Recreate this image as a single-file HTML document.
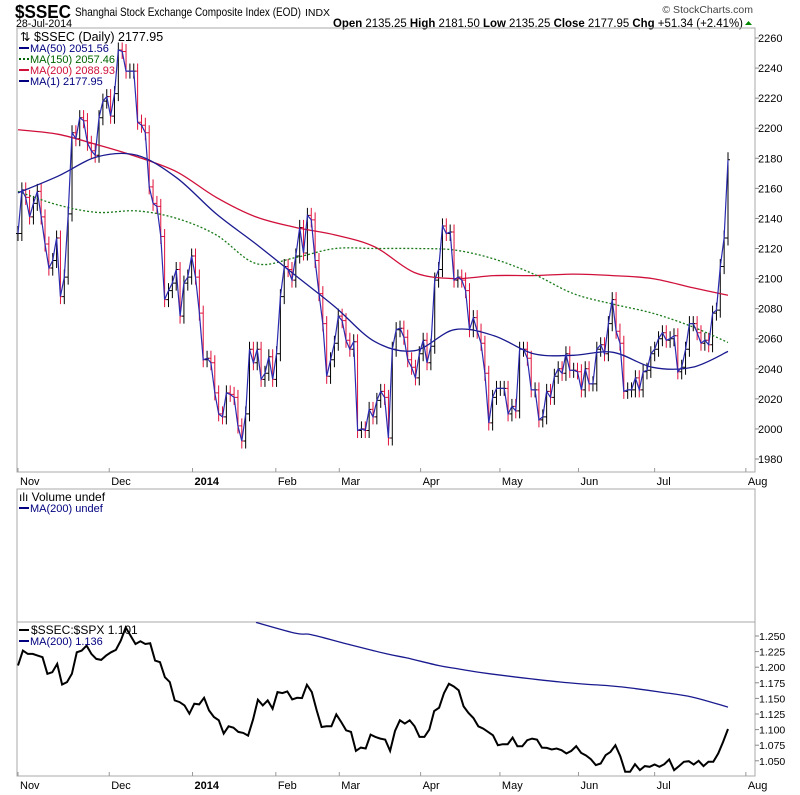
<!DOCTYPE html>
<html><head><meta charset="utf-8"><style>
body{margin:0;background:#fff;font-family:"Liberation Sans",sans-serif}
svg{display:block}
</style></head><body>
<svg id="c" width="800" height="795" xmlns="http://www.w3.org/2000/svg">
<text x="15" y="18" font-size="18" font-weight="bold" fill="#000" textLength="56" lengthAdjust="spacingAndGlyphs">$SSEC</text>
<text x="75" y="16" font-size="12" fill="#000" textLength="226" lengthAdjust="spacingAndGlyphs">Shanghai Stock Exchange Composite Index (EOD)</text>
<text x="305" y="16" font-size="10.5" fill="#000" textLength="25" lengthAdjust="spacingAndGlyphs">INDX</text>
<text x="16" y="27" font-size="11" fill="#000" textLength="56" lengthAdjust="spacingAndGlyphs">28-Jul-2014</text>
<text x="753" y="13" font-size="10.5" fill="#444" text-anchor="end">© StockCharts.com</text>
<text x="743" y="27" font-size="11.5" fill="#000" text-anchor="end" textLength="410" lengthAdjust="spacingAndGlyphs"><tspan font-weight="bold">Open</tspan> 2135.25 <tspan font-weight="bold">High</tspan> 2181.50 <tspan font-weight="bold">Low</tspan> 2135.25 <tspan font-weight="bold">Close</tspan> 2177.95 <tspan font-weight="bold">Chg</tspan> +51.34 (+2.41%)</text>
<polygon points="745,25 752,25 748.5,21" fill="#080"/>
<rect x="17" y="28" width="738" height="444" fill="none" stroke="#aaa"/>
<rect x="17" y="489" width="738" height="133" fill="none" stroke="#aaa"/>
<rect x="17" y="622" width="738" height="154" fill="none" stroke="#aaa"/>
<g id="g"></g>
<g font-size="11">
<text x="20" y="41" font-size="12.5" fill="#000">⇅ $SSEC (Daily) 2177.95</text>
<line x1="19" y1="48" x2="29" y2="48" stroke="#000080" stroke-width="2"/><text x="30" y="52" fill="#000080">MA(50) 2051.56</text>
<line x1="19" y1="59" x2="29" y2="59" stroke="#006400" stroke-width="2" stroke-dasharray="2,2"/><text x="30" y="63" fill="#006400">MA(150) 2057.46</text>
<line x1="19" y1="70" x2="29" y2="70" stroke="#d0103a" stroke-width="2"/><text x="30" y="74" fill="#d0103a">MA(200) 2088.93</text>
<line x1="19" y1="81" x2="29" y2="81" stroke="#000080" stroke-width="2"/><text x="30" y="85" fill="#000080">MA(1) 2177.95</text>
</g>
<g font-size="11">
<text x="19" y="501" font-size="12" fill="#000">ılı Volume undef</text>
<line x1="19" y1="508" x2="29" y2="508" stroke="#000080" stroke-width="2"/><text x="30" y="512" fill="#000080">MA(200) undef</text>
</g>
<g font-size="11">
<line x1="19" y1="630" x2="29" y2="630" stroke="#000" stroke-width="2"/><text x="31" y="634" font-size="12" fill="#000">$SSEC:$SPX 1.101</text>
<line x1="19" y1="641" x2="29" y2="641" stroke="#000080" stroke-width="2"/><text x="30" y="645" fill="#000080">MA(200) 1.136</text>
</g>
</svg>
<script>
const closes=[2130,2159,2154,2141,2150,2158,2141,2123,2107,2112,2127,2088,2101,2143,2197,2193,2207,2205,2190,2185,2182,2207,2218,2221,2208,2223,2252,2251,2238,2238,2238,2204,2202,2197,2161,2150,2148,2128,2086,2092,2097,2106,2075,2097,2101,2115,2101,2077,2046,2047,2044,2024,2010,2008,2024,2023,2021,2002,1992,2010,2053,2044,2053,2033,2037,2048,2033,2050,2088,2108,2106,2099,2115,2134,2117,2142,2139,2112,2090,2070,2035,2046,2057,2075,2072,2059,2053,2058,1999,2000,1999,2013,2008,2019,2025,2021,1994,
2053,2066,2067,2061,2046,2041,2034,2050,2059,2044,2055,2099,2106,2135,2130,2131,2099,2101,2099,2092,2066,2074,2065,2057,2037,2004,2021,2027,2027,2027,2010,2015,2012,2053,2053,2047,2026,2026,2006,2008,2025,2021,2035,2040,2037,2050,2039,2039,2038,2026,2040,2030,2030,2053,2056,2050,2070,2086,2065,2057,2025,2026,2026,2034,2026,2038,2039,2050,2053,2060,2064,2059,2060,2062,2038,2041,2053,2070,2070,2064,2057,2059,2056,2077,2079,2108,2127,2179];
const maDays=[0,10,20,30,40,50,60,70,80,90,100,110,120,130,140,150,160,170,179];
const ma50=[2157,2168,2181,2182,2167,2143,2123,2102,2081,2058,2052,2066,2062,2050,2049,2051,2041,2041,2051.56];
const ma150=[2158,2149,2144,2145,2140,2129,2110,2114,2120,2120,2120,2119,2113,2103,2090,2083,2077,2068,2057.46];
const ma200=[2199,2196,2189,2181,2171,2154,2141,2134,2129,2121,2104,2100,2102,2102,2103,2102,2100,2094,2088.93];
const ratio=[1.2027,1.2266,1.2213,1.2213,1.2186,1.2160,1.1894,1.1920,1.2053,1.1723,1.1761,1.1894,1.2239,1.2266,1.2346,1.2213,1.2133,1.2117,1.2186,1.2239,1.2277,1.2426,1.2638,1.2505,1.2372,1.2415,1.2372,1.2383,1.2106,1.2080,1.1840,1.1761,1.1468,1.1441,1.1388,1.1255,1.1415,1.1404,1.1510,1.1308,1.1202,1.1149,1.0936,1.1053,1.1032,1.0963,1.0947,1.0904,1.1159,1.1479,1.1388,1.1468,1.1335,1.1601,1.1585,1.1612,1.1484,1.1510,1.1505,1.1718,1.1601,1.1308,1.1042,1.1053,1.1053,1.1244,1.1122,1.0989,1.0963,1.0659,1.0712,1.0697,1.0920,1.0883,1.0856,1.0840,1.0659,1.0978,1.1149,1.1096,1.1149,1.1053,1.0883,1.0883,1.1000,1.1298,1.1351,1.1585,1.1734,1.1691,1.1628,1.1372,1.1266,1.1186,1.1053,1.1016,1.0963,1.0909,1.0750,1.0766,1.0766,1.0872,1.0734,1.0734,1.0830,1.0856,1.0840,1.0712,1.0707,1.0681,1.0697,1.0670,1.0617,1.0659,1.0734,1.0627,1.0585,1.0526,1.0431,1.0457,1.0590,1.0643,1.0750,1.0574,1.0324,1.0324,1.0446,1.0351,1.0415,1.0404,1.0441,1.0404,1.0446,1.0521,1.0351,1.0415,1.0484,1.0494,1.0441,1.0500,1.0415,1.0484,1.0484,1.0617,1.0803,1.101];
const ratioMaDays=[60,70,74,83,93,98,106,111,119,137,150,156,162,170,179];
const ratioMa=[1.2718,1.2543,1.2521,1.2372,1.2213,1.2149,1.2027,1.1973,1.1894,1.1761,1.1697,1.1654,1.1601,1.1521,1.136];
const priceTicks=[1980,2000,2020,2040,2060,2080,2100,2120,2140,2160,2180,2200,2220,2240,2260];
const ratioTicks=[1.050,1.075,1.100,1.125,1.150,1.175,1.200,1.225,1.250];
const monthLabels=["Nov","Dec","2014","Feb","Mar","Apr","May","Jun","Jul","Aug"];
const monthDays=[0,23,44,65,81,101.5,121.5,141.3,160.5,183.5];

const NS="http://www.w3.org/2000/svg", g=document.getElementById('g');
const nDays=180;
const xDay=d=>18+d*(728-18)/(nDays-1);
const yP=p=>38+(2260-p)*1.5036;
const yR=v=>636+(1.25-v)/0.025*15.6;
function mk(t,a){const e=document.createElementNS(NS,t);for(const k in a)e.setAttribute(k,a[k]);g.appendChild(e);return e;}
const cp=mk('clipPath',{id:'rc'});const cr=document.createElementNS(NS,'rect');cr.setAttribute('x',17);cr.setAttribute('y',622);cr.setAttribute('width',738);cr.setAttribute('height',154);cp.appendChild(cr);
priceTicks.forEach(p=>{const y=yP(p);
 let l=mk('line',{x1:755,y1:y,x2:759,y2:y,stroke:'#888'});
 
 let t=mk('text',{x:758,y:y+4,'font-size':11,fill:'#000'});t.textContent=p;
 });
ratioTicks.forEach(v=>{const y=yR(v);
 let l=mk('line',{x1:755,y1:y,x2:759,y2:y,stroke:'#888'});
 
 let t=mk('text',{x:759,y:y+4,'font-size':10.5,fill:'#000'});t.textContent=v.toFixed(3);
 });
monthLabels.forEach((m,i)=>{const x=xDay(monthDays[i]);
 [485,789].forEach(yy=>{let t=mk('text',{x:x+2,y:yy,'font-size':11,fill:'#000','font-weight':m==='2014'?'bold':'normal'});t.textContent=m;
 });
 [472,776].forEach(yy=>{let l=mk('line',{x1:x,y1:yy,x2:x,y2:yy-4,stroke:'#999'});
 });
});
const step=(nDays-1)/(closes.length-1);
closes.forEach((c,i)=>{const pc=i?closes[i-1]:c;const x=xDay(i*step);
 const hi=Math.max(c,pc)+5,lo=Math.min(c,pc)-5;const col=c>=pc?'#000':'#e0103a';
 let b=mk('path',{d:`M${x},${yP(hi)}V${yP(lo)}M${x-2},${yP(pc)}H${x}M${x},${yP(c)}H${x+2}`,stroke:col,'stroke-width':1,fill:'none'});
 });
function line(xs,ys,attrs,name,clip,smooth){let d;
 if(smooth){d='M'+xs[0]+','+ys[0];
  for(let i=0;i<xs.length-1;i++){const x0=xs[Math.max(0,i-1)],y0=ys[Math.max(0,i-1)],x3=xs[Math.min(xs.length-1,i+2)],y3=ys[Math.min(xs.length-1,i+2)];
   const c1x=xs[i]+(xs[i+1]-x0)/6,c1y=ys[i]+(ys[i+1]-y0)/6,c2x=xs[i+1]-(x3-xs[i])/6,c2y=ys[i+1]-(y3-ys[i])/6;
   d+=`C${c1x.toFixed(1)},${c1y.toFixed(1)} ${c2x.toFixed(1)},${c2y.toFixed(1)} ${xs[i+1].toFixed(1)},${ys[i+1].toFixed(1)}`;}}
 else d=xs.map((x,i)=>(i?'L':'M')+x.toFixed(1)+','+ys[i].toFixed(1)).join('');
 const p=mk('path',Object.assign({d:d,fill:'none'},attrs));if(clip)p.setAttribute('clip-path','url(#rc)');
 return p;}
line(maDays.map(xDay),ma200.map(yP),{stroke:'#d0103a','stroke-width':1.3},'ma200-line',false,true);
line(maDays.map(xDay),ma150.map(yP),{stroke:'#1a7a1a','stroke-width':1.3,'stroke-dasharray':'2,2'},'ma150-line',false,true);
line(maDays.map(xDay),ma50.map(yP),{stroke:'#1a1a90','stroke-width':1.3},'ma50-line',false,true);
line(closes.map((c,i)=>xDay(i*step)),closes.map(yP),{stroke:'#2a2ab0','stroke-width':1.2},'close-line');
const rs=(nDays-1)/(ratio.length-1);
line(ratioMaDays.map(xDay),ratioMa.map(yR),{stroke:'#1a1a90','stroke-width':1.3},'ratio-ma200-line',true,true);
line(ratio.map((v,i)=>xDay(i*rs)),ratio.map(yR),{stroke:'#000','stroke-width':2},'ratio-line',true);
</script>
</body></html>
